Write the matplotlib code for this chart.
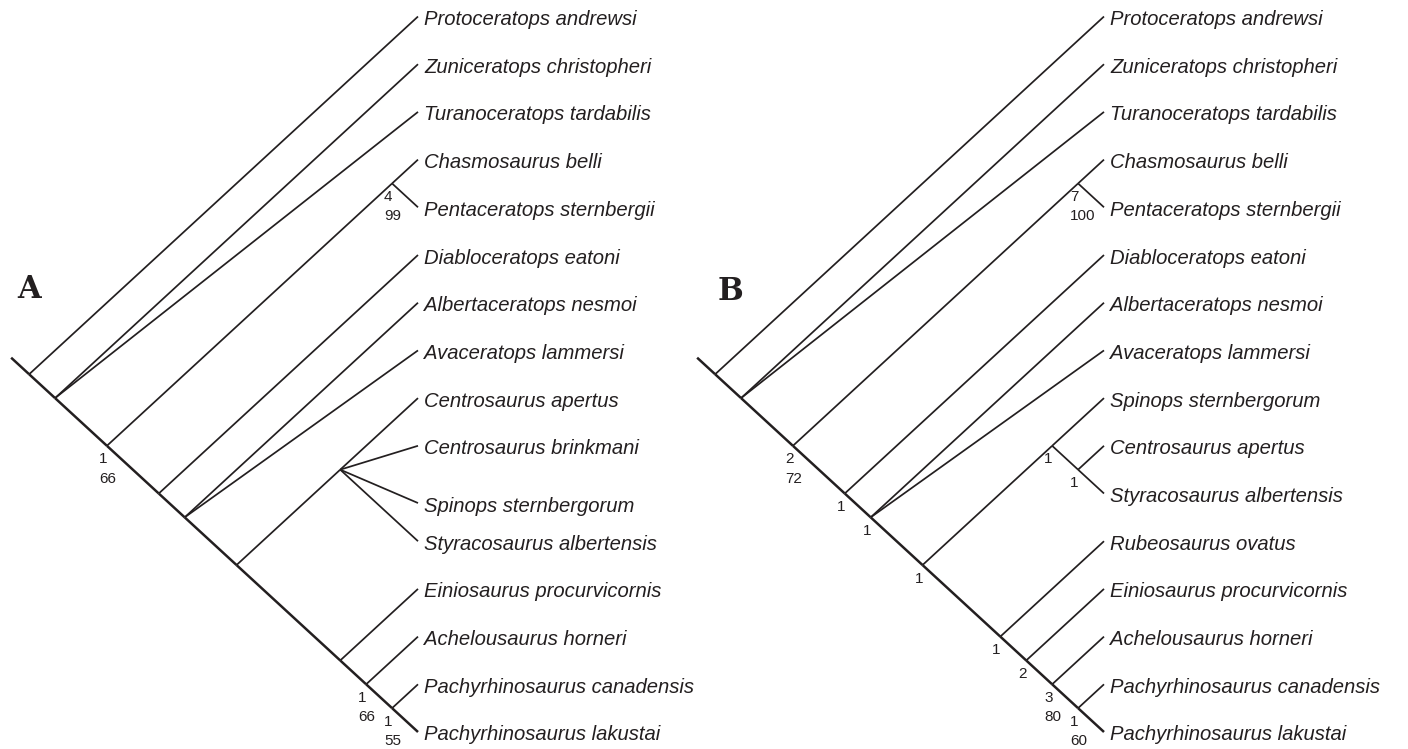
import matplotlib.pyplot as plt

# taxa (top to bottom) and their row positions, panel A
taxa_a = ["Protoceratops andrewsi", "Zuniceratops christopheri", "Turanoceratops tardabilis",
          "Chasmosaurus belli", "Pentaceratops sternbergii", "Diabloceratops eatoni",
          "Albertaceratops nesmoi", "Avaceratops lammersi", "Centrosaurus apertus",
          "Centrosaurus brinkmani", "Spinops sternbergorum", "Styracosaurus albertensis",
          "Einiosaurus procurvicornis", "Achelousaurus horneri",
          "Pachyrhinosaurus canadensis", "Pachyrhinosaurus lakustai"]
rows_a = [0, 1, 2, 3, 4, 5, 6, 7, 8, 9, 10.2, 11.0, 12, 13, 14, 15]

# panel B
taxa_b = ["Protoceratops andrewsi", "Zuniceratops christopheri", "Turanoceratops tardabilis",
          "Chasmosaurus belli", "Pentaceratops sternbergii", "Diabloceratops eatoni",
          "Albertaceratops nesmoi", "Avaceratops lammersi", "Spinops sternbergorum",
          "Centrosaurus apertus", "Styracosaurus albertensis", "Rubeosaurus ovatus",
          "Einiosaurus procurvicornis", "Achelousaurus horneri",
          "Pachyrhinosaurus canadensis", "Pachyrhinosaurus lakustai"]
rows_b = [0, 1, 2, 3, 4, 5, 6, 7, 8, 9, 10, 11, 12, 13, 14, 15]

# topologies: ints index the taxa list, a leading tuple is the support (Bremer, bootstrap)
tree_a = [0, [1, 2, [("1", "66"),
                     [("4", "99"), 3, 4],
                     [5, [6, 7, [[8, 9, 10, 11],
                                 [12, [("1", "66"), 13, [("1", "55"), 14, 15]]]]]]]]]
tree_b = [0, [1, 2, [("2", "72"),
                     [("7", "100"), 3, 4],
                     [("1",), 5, [("1",), 6, 7,
                                  [("1",),
                                   [("1",), 8, [("1",), 9, 10]],
                                   [("1",), 11, [("2",), 12, [("3", "80"), 13, [("1", "60"), 14, 15]]]]]]]]]]

S = 0.92       # vertical squeeze of the 45 degree branches
TOP = 16.5     # y of first row (px)
STEP = 47.7    # px per row
INK = '#231f20'


def kids(node):
    return [c for c in node if not isinstance(c, tuple)]


def span(node, rows):
    if isinstance(node, int):
        y = TOP + rows[node] * STEP
        return y, y
    k = kids(node)
    return span(k[0], rows)[0], span(k[-1], rows)[1]


def pos(node, rows, tip_x):
    top, bot = span(node, rows)
    return tip_x - (bot - top) / (2 * S), (top + bot) / 2


def draw(ax, node, rows, tip_x, spine):
    x0, y0 = pos(node, rows, tip_x)
    k = kids(node)
    for i, c in enumerate(k):
        x1, y1 = pos(c, rows, tip_x)
        sp = spine and i == len(k) - 1
        ax.plot([x0, x1], [y0, y1], color=INK, lw=1.8 if sp else 1.25,
                solid_capstyle='butt')
        if not isinstance(c, int):
            draw(ax, c, rows, tip_x, sp)
    if isinstance(node[0], tuple):
        for j, s in enumerate(node[0]):
            ax.text(x0 - 8, y0 + 17.5 + j * 19.5, s, fontsize=11, family='Liberation Sans',
                    color=INK, ha='left', va='baseline')


def panel(ax, tree, taxa, rows, tip_x, letter, letter_xy):
    rx, ry = pos(tree, rows, tip_x)
    ax.plot([rx - 18, rx], [ry - 18 * S, ry], color=INK, lw=1.8, solid_capstyle='butt')
    draw(ax, tree, rows, tip_x, True)
    for name, r in zip(taxa, rows):
        ax.text(tip_x + 6, TOP + r * STEP + 8.5, name, fontsize=14.6, style='italic',
                family='Liberation Sans', color=INK, ha='left', va='baseline')
    ax.text(letter_xy[0], letter_xy[1], letter, fontsize=22, fontweight='bold',
            family='DejaVu Serif', color=INK, ha='center', va='center')


fig = plt.figure(figsize=(14.08, 7.49), dpi=100)
ax = fig.add_axes([0, 0, 1, 1])
ax.set_xlim(0, 1408)
ax.set_ylim(749, 0)
ax.axis('off')

panel(ax, tree_a, taxa_a, rows_a, 418, "A", (29, 290))
panel(ax, tree_b, taxa_b, rows_b, 1104, "B", (730, 292))

fig.savefig("out.png", dpi=100)
